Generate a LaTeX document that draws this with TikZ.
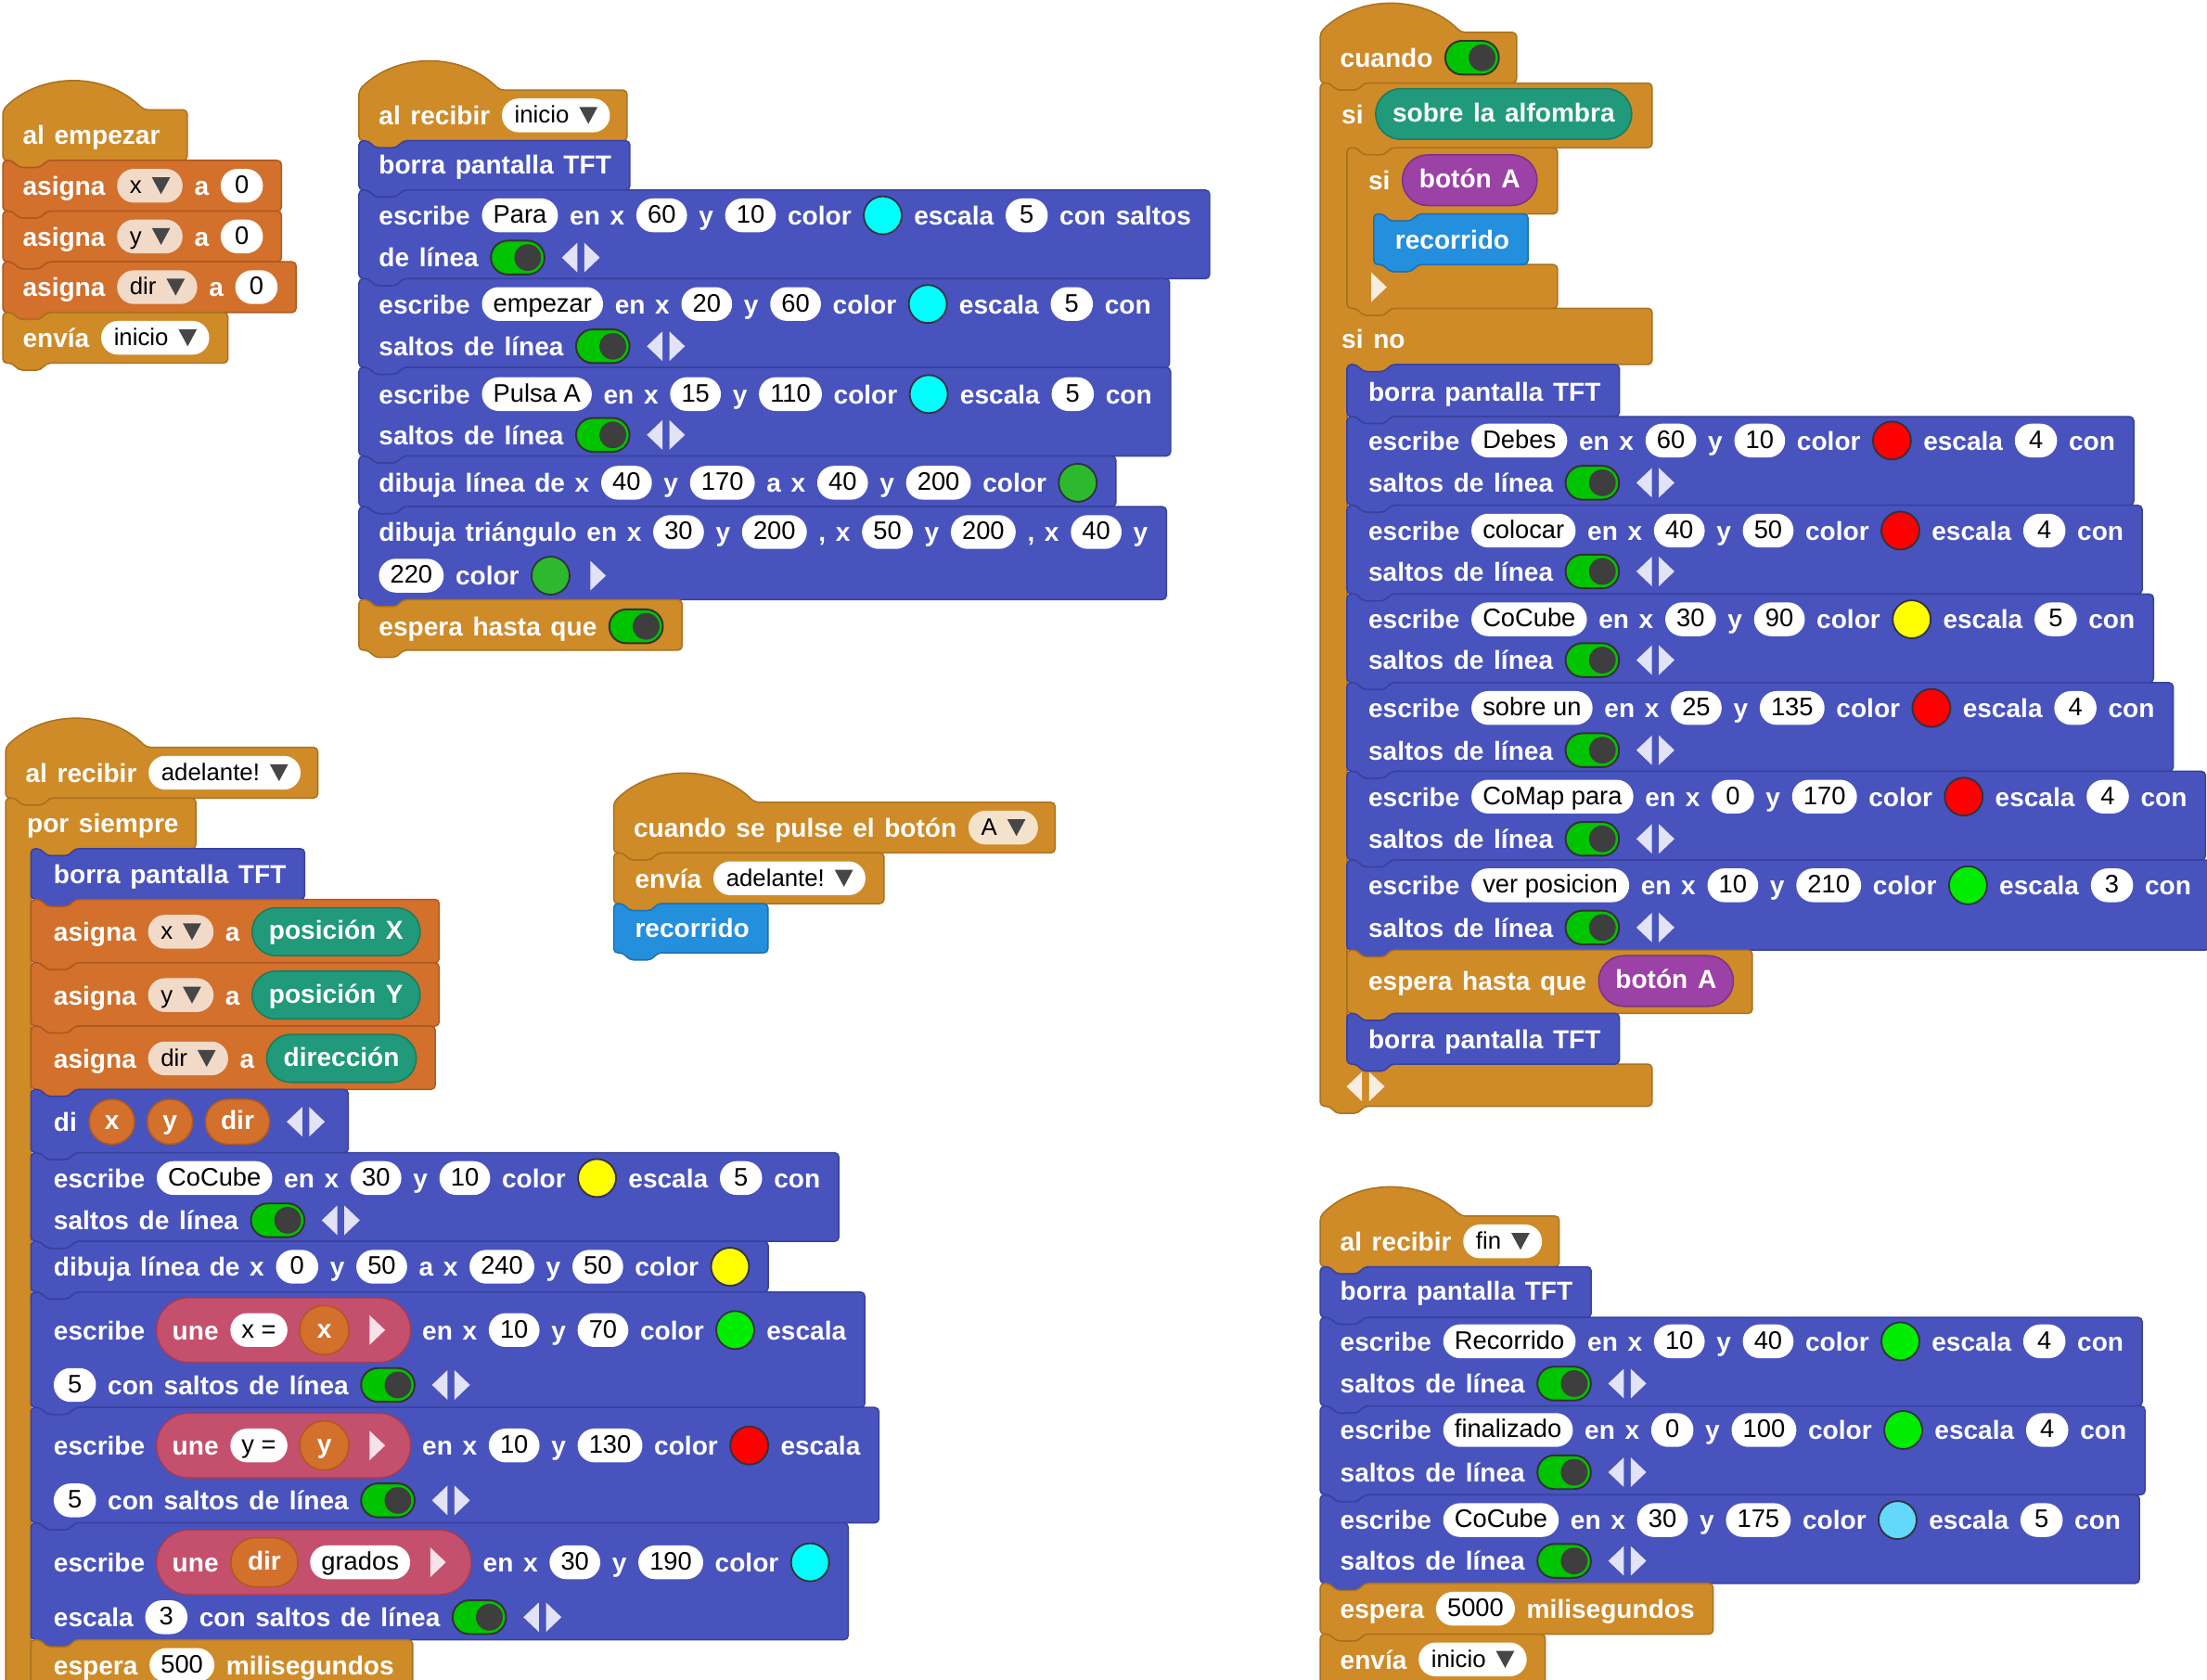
\documentclass[tikz,border=0pt]{standalone}
\usepackage{fontspec}
\setmainfont{Liberation Sans}
\usetikzlibrary{calc}
\pgfdeclarelayer{bg}
\pgfdeclarelayer{mid}
\pgfsetlayers{bg,mid,main}
\definecolor{ctrl}{RGB}{207,139,40}
\definecolor{ctrldk}{RGB}{172,113,30}
\definecolor{var}{RGB}{210,112,44}
\definecolor{vardk}{RGB}{176,88,32}
\definecolor{tft}{RGB}{72,83,190}
\definecolor{tftdk}{RGB}{56,65,158}
\definecolor{rec}{RGB}{36,143,220}
\definecolor{recdk}{RGB}{28,113,180}
\definecolor{tealc}{RGB}{32,154,122}
\definecolor{tealdk}{RGB}{24,124,97}
\definecolor{purp}{RGB}{156,65,165}
\definecolor{purpdk}{RGB}{124,50,134}
\definecolor{unep}{RGB}{197,80,110}
\definecolor{unepdk}{RGB}{163,60,88}
\definecolor{peach}{RGB}{242,218,200}
\definecolor{peachA}{RGB}{244,226,203}
\definecolor{tgreen}{RGB}{0,196,0}
\definecolor{tdk}{RGB}{50,50,50}
\definecolor{knob}{RGB}{62,62,62}
\definecolor{ddk}{RGB}{70,70,70}
\definecolor{lav}{RGB}{226,227,246}
\definecolor{cream}{RGB}{247,237,224}
\definecolor{pinkw}{RGB}{246,226,232}
\definecolor{sdk}{RGB}{50,50,60}
\definecolor{cyanc}{RGB}{0,255,255}
\definecolor{dgreen}{RGB}{45,185,45}
\definecolor{bgreen}{RGB}{0,236,0}
\definecolor{redc}{RGB}{255,0,0}
\definecolor{yellowc}{RGB}{255,255,0}
\definecolor{lblue}{RGB}{100,216,250}
\tikzset{
 lbl/.style={text=white, font={\bfseries\fontsize{18.5}{20}\selectfont\spaceskip=7pt\relax}, inner sep=0pt, text height=13.6pt, text depth=0pt},
 pillbase/.style={rectangle, rounded corners=11.9pt, minimum height=24pt, minimum width=30pt, inner xsep=8pt, inner ysep=0pt, text height=11pt, text depth=0pt, text=black, font={\fontsize{18}{20}\selectfont}},
 pill/.style={pillbase, fill=white},
 ddpill/.style={pillbase, font={\fontsize{17}{20}\selectfont}, inner xsep=9pt},
 rep/.style={lbl, text height=11pt, rectangle, line width=1pt, inner xsep=12pt},
 tealR/.style={rep, fill=tealc, draw=tealdk, minimum height=34pt, rounded corners=16.9pt},
 tealB/.style={rep, fill=tealc, draw=tealdk, minimum height=36pt, rounded corners=17.9pt},
 purR/.style={rep, fill=purp, draw=purpdk, minimum height=36pt, rounded corners=17.9pt},
 orep/.style={rep, fill=var, draw=vardk, minimum height=32pt, minimum width=32pt, rounded corners=15.9pt, inner xsep=11pt},
 ourep/.style={rep, fill=var, draw=vardk, minimum height=35pt, minimum width=35pt, rounded corners=17.4pt, inner xsep=12pt},
 tog/.style={rectangle, rounded corners=11.9pt, minimum width=38pt, minimum height=24pt, inner sep=0pt, fill=tgreen, draw=tdk, line width=1.3pt},
 sw/.style={circle, minimum size=27pt, inner sep=0pt, draw=sdk, line width=1.2pt},
 arrn/.style={rectangle, minimum width=34pt, minimum height=22pt, inner sep=0pt},
 arrs/.style={rectangle, minimum width=22pt, minimum height=22pt, inner sep=0pt},
 blk/.style={line width=1pt, rounded corners=3pt},
 ctrlB/.style={fill=ctrl, draw=ctrldk},
 varB/.style={fill=var, draw=vardk},
 tftB/.style={fill=tft, draw=tftdk},
 recB/.style={fill=rec, draw=recdk},
}
\newdimen\maxx
\newdimen\tmpd
\newcounter{it}
\newcommand\upd{\pgfextractx{\tmpd}{\pgfpointanchor{cur}{center}}\ifdim\tmpd>\maxx\global\maxx=\tmpd\fi}
\newcommand\itm[2]{\stepcounter{it}\node[#1,anchor=west] (n\theit) at ([xshift=8pt]cur) {#2};\coordinate (cur) at (n\theit.east);\upd}
\newcommand\Ln[2]{\coordinate (cur) at ({#1-8},#2);}
\newcommand\Bs{\global\maxx=0pt\relax}
\newcommand\Lb[1]{\itm{lbl}{#1}}
\newcommand\Pl[1]{\itm{pill}{#1}}
\newcommand\Dd[2]{\itm{ddpill,fill=#1}{#2\rule{20pt}{0pt}}\fill[ddk] ($(n\theit.east)+(-22,-6)$) -- ++(13,0) -- ++(-6.5,12) -- cycle;}
\newcommand\Tg{\itm{tog}{}\fill[knob] ([xshift=-12.5pt]n\theit.east) circle[radius=9.5pt];}
\newcommand\Sw[1]{\itm{sw,fill=#1}{}}
\newcommand\Ar[1][lav]{\itm{arrn}{}\fill[#1] (n\theit.center) ++(-2.5,-10.5) -- ++(0,21) -- ++(-11,-10.5) -- cycle;\fill[#1] (n\theit.center) ++(2.5,-10.5) -- ++(0,21) -- ++(11,-10.5) -- cycle;}
\newcommand\Ra[1][lav]{\itm{arrs}{}\fill[#1] (n\theit.center) ++(-5,-10.5) -- ++(0,21) -- ++(11,-10.5) -- cycle;}
\newcommand\Or[1]{\itm{orep}{#1}}
\newcommand\Ou[1]{\itm{ourep}{#1}}
\newcommand\Te[1]{\itm{tealR}{#1}}
\newcommand\Ub{\coordinate (us) at ([xshift=8pt]cur);\coordinate (cur) at ([xshift=3pt]us);}
\newcommand\Ue{\coordinate (ue) at ([xshift=13pt]cur);\begin{pgfonlayer}{mid}\filldraw[fill=unep,draw=unepdk,line width=1pt,rounded corners=22.9pt] ([yshift=23pt]us) rectangle ([yshift=-23pt]ue);\end{pgfonlayer}\coordinate (cur) at (ue);\upd}
\newcommand\Ea[5]{\Lb{escribe}\Pl{#1}\Lb{en x}\Pl{#2}\Lb{y}\Pl{#3}\Lb{color}\Sw{#4}\Lb{escala}\Pl{#5}}
\newcommand\Sl{\Lb{saltos de línea}\Tg\Ar}
\newcommand\Stk[4]{\pgfmathsetmacro\Rx{\maxx+13}\begin{pgfonlayer}{bg}\filldraw[blk,#1] (#2,#3) -- ({#2+7},#3) -- ({#2+11},{#3+5}) -- ({#2+27},{#3+5}) -- ({#2+31},#3) -- (\Rx,#3) -- (\Rx,#4) -- ({#2+31},#4) -- ({#2+27},{#4+5}) -- ({#2+11},{#4+5}) -- ({#2+7},#4) -- (#2,#4) -- cycle;\end{pgfonlayer}}
\newcommand\Hat[4]{\pgfmathsetmacro\Rx{max(\maxx+12,#4)}\begin{pgfonlayer}{bg}\filldraw[blk,ctrlB] (#1,#2) .. controls ({#1+27},{#2-27}) and ({#1+73},{#2-27}) .. ({#1+100},#2) -- (\Rx,#2) -- (\Rx,#3) -- ({#1+31},#3) -- ({#1+27},{#3+5}) -- ({#1+11},{#3+5}) -- ({#1+7},#3) -- (#1,#3) -- cycle;\end{pgfonlayer}}
\begin{document}
\begin{tikzpicture}[x=1pt,y=-1pt]
\useasboundingbox (0,0) rectangle (1568,1193);
\begin{pgfonlayer}{bg}\fill[white] (0,0) rectangle (1568,1193);\end{pgfonlayer}
% ---- Block A: al empezar
\Bs\Ln{16}{96}\Lb{al empezar}\Hat{2}{78}{114}{133}
\Bs\Ln{16}{132}\Lb{asigna}\Dd{peach}{x}\Lb{a}\Pl{0}\Stk{varB}{2}{114}{150}
\Bs\Ln{16}{168}\Lb{asigna}\Dd{peach}{y}\Lb{a}\Pl{0}\Stk{varB}{2}{150}{186}
\Bs\Ln{16}{204}\Lb{asigna}\Dd{peach}{dir}\Lb{a}\Pl{0}\Stk{varB}{2}{186}{222}
\Bs\Ln{16}{240}\Lb{envía}\Dd{white}{inicio}\Stk{ctrlB}{2}{222}{258}
% ---- Block B: al recibir inicio
\Bs\Ln{269}{82}\Lb{al recibir}\Dd{white}{inicio}\Hat{255}{64}{100}{0}
\Bs\Ln{269}{117}\Lb{borra pantalla TFT}\Stk{tftB}{255}{100}{135}
\Bs\Ln{269}{153}\Ea{Para}{60}{10}{cyanc}{5}\Lb{con saltos}\Ln{269}{183}\Lb{de línea}\Tg\Ar\Stk{tftB}{255}{135}{198}
\Bs\Ln{269}{216}\Ea{empezar}{20}{60}{cyanc}{5}\Lb{con}\Ln{269}{246}\Sl\Stk{tftB}{255}{198}{261}
\Bs\Ln{269}{280}\Ea{Pulsa A}{15}{110}{cyanc}{5}\Lb{con}\Ln{269}{309}\Sl\Stk{tftB}{255}{261}{324}
\Bs\Ln{269}{343}\Lb{dibuja línea de x}\Pl{40}\Lb{y}\Pl{170}\Lb{a x}\Pl{40}\Lb{y}\Pl{200}\Lb{color}\Sw{dgreen}\Stk{tftB}{255}{324}{360}
\Bs\Ln{269}{378}\Lb{dibuja triángulo en x}\Pl{30}\Lb{y}\Pl{200}\Lb{, x}\Pl{50}\Lb{y}\Pl{200}\Lb{, x}\Pl{40}\Lb{y}\Ln{269}{409}\Pl{220}\Lb{color}\Sw{dgreen}\Ra\Stk{tftB}{255}{360}{426}
\Bs\Ln{269}{445}\Lb{espera hasta que}\Tg\Stk{ctrlB}{255}{426}{462}
% ---- Block C: al recibir adelante!
\Bs\Ln{18}{549}\Lb{al recibir}\Dd{white}{adelante!}\Hat{4}{531}{567}{0}
\Bs\Ln{19}{585}\Lb{por siempre}\pgfmathsetmacro\RxF{\maxx+12}
\begin{pgfonlayer}{bg}\filldraw[blk,ctrlB] (4,567) -- (11,567) -- (15,572) -- (31,572) -- (35,567) -- (\RxF,567) -- (\RxF,603) -- (53,603) -- (49,608) -- (33,608) -- (29,603) -- (22,603) -- (22,1260) -- (4,1260) -- cycle;\end{pgfonlayer}
\Bs\Ln{38}{621}\Lb{borra pantalla TFT}\Stk{tftB}{22}{603}{639}
\Bs\Ln{38}{662}\Lb{asigna}\Dd{peach}{x}\Lb{a}\Te{posición X}\Stk{varB}{22}{639}{684}
\Bs\Ln{38}{707}\Lb{asigna}\Dd{peach}{y}\Lb{a}\Te{posición Y}\Stk{varB}{22}{684}{729}
\Bs\Ln{38}{752}\Lb{asigna}\Dd{peach}{dir}\Lb{a}\Te{dirección}\Stk{varB}{22}{729}{774}
\Bs\Ln{38}{797}\Lb{di}\Or{x}\Or{y}\Or{dir}\Ar\Stk{tftB}{22}{774}{819}
\Bs\Ln{38}{837}\Ea{CoCube}{30}{10}{yellowc}{5}\Lb{con}\Ln{38}{867}\Sl\Stk{tftB}{22}{819}{882}
\Bs\Ln{38}{900}\Lb{dibuja línea de x}\Pl{0}\Lb{y}\Pl{50}\Lb{a x}\Pl{240}\Lb{y}\Pl{50}\Lb{color}\Sw{yellowc}\Stk{tftB}{22}{882}{918}
\Bs\Ln{38}{945}\Lb{escribe}\Ub\Lb{une}\Pl{x =}\Ou{x}\Ra[pinkw]\Ue\Lb{en x}\Pl{10}\Lb{y}\Pl{70}\Lb{color}\Sw{bgreen}\Lb{escala}\Ln{38}{984}\Pl{5}\Lb{con saltos de línea}\Tg\Ar\Stk{tftB}{22}{918}{1000}
\Bs\Ln{38}{1027}\Lb{escribe}\Ub\Lb{une}\Pl{y =}\Ou{y}\Ra[pinkw]\Ue\Lb{en x}\Pl{10}\Lb{y}\Pl{130}\Lb{color}\Sw{redc}\Lb{escala}\Ln{38}{1066}\Pl{5}\Lb{con saltos de línea}\Tg\Ar\Stk{tftB}{22}{1000}{1082}
\Bs\Ln{38}{1110}\Lb{escribe}\Ub\Lb{une}\Ou{dir}\Pl{grados}\Ra[pinkw]\Ue\Lb{en x}\Pl{30}\Lb{y}\Pl{190}\Lb{color}\Sw{cyanc}\Ln{38}{1149}\Lb{escala}\Pl{3}\Lb{con saltos de línea}\Tg\Ar\Stk{tftB}{22}{1082}{1165}
\Bs\Ln{38}{1183}\Lb{espera}\Pl{500}\Lb{milisegundos}\Stk{ctrlB}{22}{1165}{1201}
% ---- Block D: cuando se pulse el botón
\Bs\Ln{450}{588}\Lb{cuando se pulse el botón}\Dd{peachA}{A}\Hat{436}{570}{606}{0}
\Bs\Ln{451}{624}\Lb{envía}\Dd{white}{adelante!}\Stk{ctrlB}{436}{606}{642}
\Bs\Ln{451}{659}\Lb{recorrido}\Stk{recB}{436}{642}{677}
% ---- Block E: cuando
\Bs\Ln{952}{41}\Lb{cuando}\Tg\Hat{938}{23}{59}{0}
\Bs\Ln{953}{81}\Lb{si}\itm{tealB}{sobre la alfombra}\pgfmathsetmacro\RxE{\maxx+14}
\begin{pgfonlayer}{bg}\filldraw[blk,ctrlB] (938,59) -- (945,59) -- (949,64) -- (965,64) -- (969,59) -- (\RxE,59) -- (\RxE,105) -- (988,105) -- (984,110) -- (968,110) -- (964,105) -- (957,105) -- (957,219) -- (964,219) -- (968,224) -- (984,224) -- (988,219) -- (\RxE,219) -- (\RxE,259) -- (988,259) -- (984,264) -- (968,264) -- (964,259) -- (957,259) -- (957,756) -- (964,756) -- (968,761) -- (984,761) -- (988,756) -- (\RxE,756) -- (\RxE,786) -- (969,786) -- (965,791) -- (949,791) -- (945,786) -- (938,786) -- cycle;\end{pgfonlayer}
\Bs\Ln{972}{128}\Lb{si}\itm{purR}{botón A}\pgfmathsetmacro\RxI{\maxx+14}
\begin{pgfonlayer}{bg}\filldraw[blk,ctrlB] (957,105) -- (964,105) -- (968,110) -- (984,110) -- (988,105) -- (\RxI,105) -- (\RxI,152) -- (1007,152) -- (1003,157) -- (987,157) -- (983,152) -- (976,152) -- (976,188) -- (983,188) -- (987,193) -- (1003,193) -- (1007,188) -- (\RxI,188) -- (\RxI,219) -- (988,219) -- (984,224) -- (968,224) -- (964,219) -- (957,219) -- cycle;\end{pgfonlayer}
\Bs\Ln{991}{170}\Lb{recorrido}\Stk{recB}{976}{152}{188}
\Ln{968}{204}\Ra[cream]
\Ln{953}{241}\Lb{si no}
\Bs\Ln{972}{278}\Lb{borra pantalla TFT}\Stk{tftB}{957}{259}{296}
\Bs\Ln{972}{313}\Ea{Debes}{60}{10}{redc}{4}\Lb{con}\Ln{972}{343}\Sl\Stk{tftB}{957}{296}{359}
\Bs\Ln{972}{377}\Ea{colocar}{40}{50}{redc}{4}\Lb{con}\Ln{972}{406}\Sl\Stk{tftB}{957}{359}{422}
\Bs\Ln{972}{440}\Ea{CoCube}{30}{90}{yellowc}{5}\Lb{con}\Ln{972}{469}\Sl\Stk{tftB}{957}{422}{485}
\Bs\Ln{972}{503}\Ea{sobre un}{25}{135}{redc}{4}\Lb{con}\Ln{972}{533}\Sl\Stk{tftB}{957}{485}{548}
\Bs\Ln{972}{566}\Ea{CoMap para}{0}{170}{redc}{4}\Lb{con}\Ln{972}{596}\Sl\Stk{tftB}{957}{548}{611}
\Bs\Ln{972}{629}\Ea{ver posicion}{10}{210}{bgreen}{3}\Lb{con}\Ln{972}{659}\Sl\Stk{tftB}{957}{611}{675}
\Bs\Ln{972}{697}\Lb{espera hasta que}\itm{purR}{botón A}\Stk{ctrlB}{957}{675}{720}
\Bs\Ln{972}{738}\Lb{borra pantalla TFT}\Stk{tftB}{957}{720}{756}
\Ln{953}{772}\Ar[cream]
% ---- Block F: al recibir fin
\Bs\Ln{952}{882}\Lb{al recibir}\Dd{white}{fin}\Hat{938}{864}{900}{0}
\Bs\Ln{952}{917}\Lb{borra pantalla TFT}\Stk{tftB}{938}{900}{936}
\Bs\Ln{952}{953}\Ea{Recorrido}{10}{40}{bgreen}{4}\Lb{con}\Ln{952}{983}\Sl\Stk{tftB}{938}{936}{999}
\Bs\Ln{952}{1016}\Ea{finalizado}{0}{100}{bgreen}{4}\Lb{con}\Ln{952}{1046}\Sl\Stk{tftB}{938}{999}{1062}
\Bs\Ln{952}{1080}\Ea{CoCube}{30}{175}{lblue}{5}\Lb{con}\Ln{952}{1109}\Sl\Stk{tftB}{938}{1062}{1125}
\Bs\Ln{952}{1143}\Lb{espera}\Pl{5000}\Lb{milisegundos}\Stk{ctrlB}{938}{1125}{1161}
\Bs\Ln{952}{1179}\Lb{envía}\Dd{white}{inicio}\Stk{ctrlB}{938}{1161}{1197}
\end{tikzpicture}
\end{document}
